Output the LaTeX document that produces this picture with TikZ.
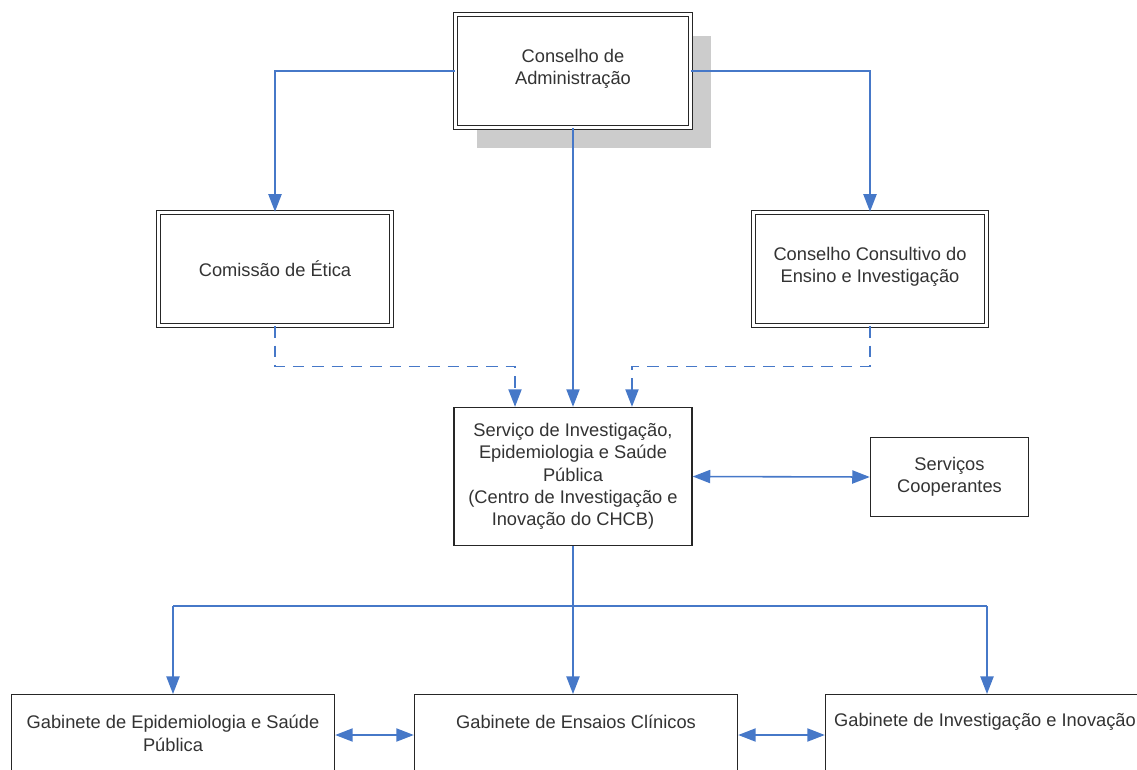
\documentclass[tikz,border=0pt]{standalone}
\usepackage{fontspec}
\setmainfont{Liberation Sans}
\usetikzlibrary{arrows.meta,shadows}
\definecolor{linkblue}{RGB}{70,120,200}

\begin{document}
\begin{tikzpicture}[x=0.02cm, y=-0.02cm,
  every node/.style={font=\fontsize{10.4}{12.7}\selectfont, text=black!80, align=center},
  dbox/.style={draw=black!85, double=white, double distance=1.2pt, line width=0.9pt, fill=white, minimum width=4.66cm, minimum height=2.26cm, inner sep=0pt},
  sbox/.style={draw=black!85, line width=0.8pt, fill=white, inner sep=0pt},
  gbox/.style={sbox, minimum width=6.46cm, minimum height=3cm, anchor=north},
  wire/.style={draw=linkblue, line width=0.9pt},
  link/.style={wire, -{Triangle[length=10pt, width=7.5pt]}},
  dlink/.style={link, dash pattern=on 6.5pt off 4.5pt},
  both/.style={wire, {Triangle[length=10pt, width=7.5pt]}-{Triangle[length=10pt, width=7.5pt]}}]
\useasboundingbox (0,0) rectangle (1137,769);
\clip (0,0) rectangle (1137,769);
% boxes
\node[dbox, minimum width=4.7cm, drop shadow={shadow xshift=0.42cm, shadow yshift=-0.42cm, fill=black!20, opacity=1}] (admin) at (573,71) {Conselho de\\Administração\\[-8pt]};
\node[dbox] (etica) at (275,269) {Comissão de Ética};
\node[dbox] (consultivo) at (870,269) {Conselho Consultivo do\\Ensino e Investigação\\[-8pt]};
\node[sbox, minimum width=4.76cm, minimum height=2.76cm] (servico) at (573,476.5) {Serviço de Investigação,\\Epidemiologia e Saúde\\Pública\\(Centro de Investigação e\\Inovação do CHCB)};
\node[sbox, minimum width=3.16cm, minimum height=1.58cm] (coop) at (949.5,477) {Serviços\\Cooperantes};
\node[gbox] (epid) at (173,694) {};
\node[gbox] (ensaios) at (576,694) {};
\node[gbox] (inov) at (987,694) {};
\node (epidtxt) at (173,733.5) {Gabinete de Epidemiologia e Saúde\\Pública};
\node (ensaiostxt) at (576,722) {Gabinete de Ensaios Clínicos};
\node (inovtxt) at (985,722) {Gabinete de Investigação e Inovação};
% connectors
\draw[link] (admin.west) -| (etica.north);
\draw[link] (admin.east) -| (consultivo.north);
\draw[link] (admin.south) -- (admin.south |- servico.north);
\draw[dlink] (etica.south) -- ++(0,40) -| ([xshift=-1.16cm]servico.north);
\draw[dlink] (consultivo.south) -- ++(0,40) -| ([xshift=1.18cm]servico.north);
\draw[both] (servico.east) -- (coop.west);
\draw[wire] (servico.south) -- ++(0,60) coordinate (split);
\draw[wire] (split -| epid.north) -- (split -| inov.north);
\draw[link] (split -| epid.north) -- (epid.north);
\draw[link] (split) -- (split |- ensaios.north);
\draw[link] (split -| inov.north) -- (inov.north);
\draw[both] ([yshift=-0.82cm]epid.north east) -- ([yshift=-0.82cm]ensaios.north west);
\draw[both] ([yshift=-0.82cm]ensaios.north east) -- ([yshift=-0.82cm]inov.north west);
\end{tikzpicture}
\end{document}
